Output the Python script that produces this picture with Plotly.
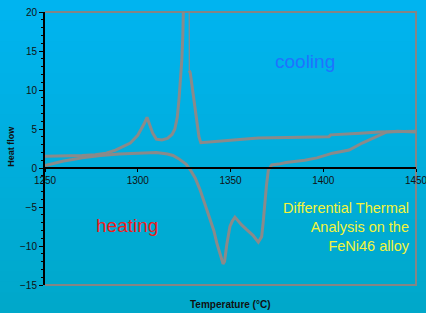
import plotly.graph_objects as go

# Cooling curve (temperature decreasing)
cool_T = [1450, 1440, 1430, 1420, 1410, 1404, 1403, 1395, 1385, 1375, 1365, 1355, 1345, 1336, 1334,
          1333, 1332.5, 1331, 1329.6, 1328.3, 1327.8, 1327.7, 1324.9, 1324.7, 1324.3, 1323.8, 1323.0,
          1322.2, 1321.3, 1320, 1318.5, 1316, 1313, 1310, 1308, 1306.5, 1305, 1303.5, 1302, 1300,
          1296, 1292, 1288, 1283, 1277, 1270, 1260, 1250]
cool_Y = [4.7, 4.65, 4.6, 4.45, 4.35, 4.25, 4.0, 3.95, 3.9, 3.85, 3.85, 3.65, 3.45, 3.2, 3.25,
          4.0, 4.9, 7.0, 10.0, 12.2, 12.5, 30.0, 24.0, 20.5, 17.0, 14.0, 11.0,
          8.7, 6.5, 5.0, 4.3, 3.8, 3.6, 3.7, 4.5, 5.6, 6.5, 5.7, 5.0, 4.2,
          3.2, 2.7, 2.3, 1.9, 1.7, 1.6, 1.55, 1.5]

# Heating curve (temperature increasing)
heat_T = [1250, 1255, 1260, 1265, 1270, 1280, 1290, 1300, 1310, 1316, 1319, 1322, 1326, 1328.5,
          1331, 1333.6, 1336, 1339, 1341, 1342.6, 1344.5, 1346, 1346.8, 1348, 1349.7, 1351, 1352.4,
          1354, 1356, 1358.7, 1362, 1365, 1366.8, 1367.6, 1368.6, 1369.4, 1370.4, 1372.2, 1376,
          1380, 1390, 1396.6, 1405, 1414, 1421, 1429, 1434, 1440, 1450]
heat_Y = [0.3, 0.6, 0.9, 1.1, 1.3, 1.6, 1.8, 1.9, 2.0, 1.8, 1.6, 1.2, 0.5, -0.3,
          -1.3, -2.8, -4.5, -6.5, -8.0, -9.6, -11.2, -12.3, -12.0, -9.8, -7.5, -6.8, -6.3,
          -6.8, -7.3, -7.9, -8.6, -9.5, -8.8, -7.0, -4.1, -2.2, -0.3, 0.4, 0.5,
          0.7, 1.0, 1.3, 1.9, 2.3, 3.2, 4.0, 4.6, 4.7, 4.6]

x_ticks = [1250, 1300, 1350, 1400, 1450]
y_ticks = [-15, -10, -5, 0, 5, 10, 15, 20]

GREY = "#8a8a8a"

# the sparse (thin-looking) part of the cooling curve around the off-scale peak
k0, k1 = 20, 22

fig = go.Figure()
fig.add_trace(go.Scatter(x=cool_T[:k0 + 1], y=cool_Y[:k0 + 1], mode="lines", name="cooling",
                         line=dict(color=GREY, width=3), hoverinfo="skip"))
fig.add_trace(go.Scatter(x=cool_T[k0:k1 + 1], y=cool_Y[k0:k1 + 1], mode="lines",
                         name="cooling peak", line=dict(color=GREY, width=1.2), hoverinfo="skip"))
fig.add_trace(go.Scatter(x=cool_T[k1:], y=cool_Y[k1:], mode="lines", name="cooling (cont.)",
                         line=dict(color=GREY, width=3), hoverinfo="skip"))
fig.add_trace(go.Scatter(x=heat_T, y=heat_Y, mode="lines", name="heating",
                         line=dict(color=GREY, width=3), hoverinfo="skip"))

# background gradient bands (paper coordinates span the full figure)
top = (0, 180, 240)
bot = (0, 168, 202)
n = 30
y_lo, y_hi = -28 / 273, 1 + 12 / 273
shapes = []
for i in range(n):
    f = i / (n - 1)
    c = tuple(round(bot[k] + (top[k] - bot[k]) * f) for k in range(3))
    y0 = y_lo + (y_hi - y_lo) * i / n
    y1 = y_lo + (y_hi - y_lo) * (i + 1) / n + 0.002
    shapes.append(dict(type="rect", xref="paper", yref="paper", x0=-0.13, x1=1.04,
                       y0=y0, y1=y1, fillcolor="rgb(%d,%d,%d)" % c, line=dict(width=0),
                       layer="below"))
# grey frame: top, right, bottom
shapes.append(dict(type="path", xref="paper", yref="paper", path="M 0,1 L 1,1 L 1,0 L 0,0",
                   line=dict(color="#858585", width=2), layer="below"))

font = "Liberation Sans, Arial, sans-serif"
fig.update_layout(
    width=426, height=313,
    margin=dict(l=45, r=10, t=12, b=28, autoexpand=False),
    paper_bgcolor="rgb(0,168,202)",
    plot_bgcolor="rgba(0,0,0,0)",
    showlegend=False,
    shapes=shapes,
    font=dict(family=font, size=10, color="#111111"),
    xaxis=dict(range=[1250, 1450], tickvals=x_ticks, ticktext=[str(v) for v in x_ticks],
               showgrid=False, zeroline=False, showline=True, linecolor="black", linewidth=1.5,
               ticks="outside", ticklen=3, tickcolor="black", anchor="free",
               position=15 / 35, tickfont=dict(size=10, color="#111111"),
               ticklabeloverflow="allow", automargin=False),
    yaxis=dict(range=[-15, 20], tickvals=y_ticks, showgrid=False, zeroline=False,
               showline=True, linecolor="black", linewidth=2, ticks="outside", ticklen=4,
               tickcolor="black", tickfont=dict(size=10, color="#111111"), automargin=False,
               minor=dict(dtick=1, ticks="outside", ticklen=2, tickcolor="black")),
    annotations=[
        dict(text="<b>Heat flow</b>", xref="paper", yref="paper", x=-0.092, y=0.51,
             textangle=-90, showarrow=False, font=dict(size=9, color="#111111"),
             xanchor="center", yanchor="middle"),
        dict(text="<b>Temperature (°C)</b>", xref="paper", yref="paper", x=0.5, y=-0.07,
             showarrow=False, font=dict(size=10, color="#111111"),
             xanchor="center", yanchor="middle"),
        dict(text="cooling", x=1390, y=13.6, xref="x", yref="y", showarrow=False,
             font=dict(size=19, color="#1f72ff"), xanchor="center", yanchor="middle"),
        dict(text="heating", x=1294, y=-7.4, xref="x", yref="y", showarrow=False,
             font=dict(size=19, color="#ee1c1c"), xanchor="center", yanchor="middle"),
        dict(text="Differential Thermal<br>Analysis on the<br>FeNi46 alloy", x=1447.8, y=-7.6,
             xref="x", yref="y", showarrow=False, align="right",
             font=dict(size=14.5, color="#f4f43a"), xanchor="right", yanchor="middle"),
    ],
)

fig.write_html("out.html", config={"displayModeBar": False},
               post_script="document.body.style.margin='0';document.body.style.padding='0';")
